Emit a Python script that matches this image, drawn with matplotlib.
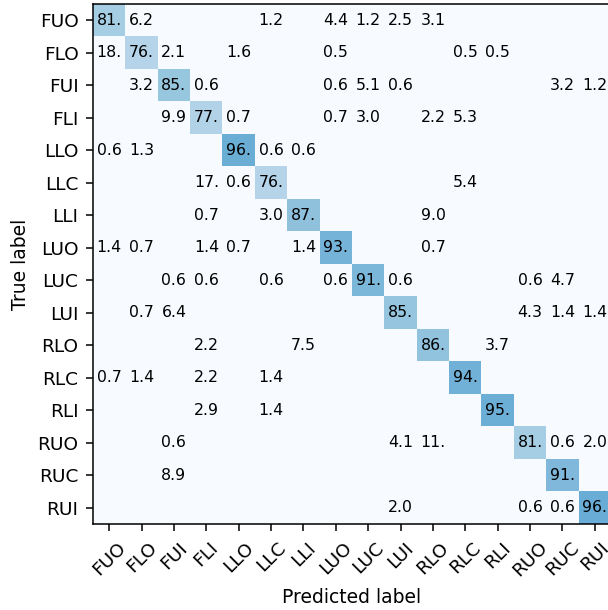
import numpy as np
import matplotlib
matplotlib.use("Agg")
import matplotlib.pyplot as plt
from matplotlib.colors import Normalize

labels = ["FUO", "FLO", "FUI", "FLI", "LLO", "LLC", "LLI", "LUO",
          "LUC", "LUI", "RLO", "RLC", "RLI", "RUO", "RUC", "RUI"]

# rows = true label, columns = predicted label (percent)
row_FUO = [81.4, 6.2, 0, 0, 0, 1.2, 0, 4.4, 1.2, 2.5, 3.1, 0, 0, 0, 0, 0]
row_FLO = [18.1, 76.3, 2.1, 0, 1.6, 0, 0, 0.5, 0, 0, 0, 0.5, 0.5, 0, 0, 0]
row_FUI = [0, 3.2, 85.3, 0.6, 0, 0, 0, 0.6, 5.1, 0.6, 0, 0, 0, 0, 3.2, 1.2]
row_FLI = [0, 0, 9.9, 77.6, 0.7, 0, 0, 0.7, 3.0, 0, 2.2, 5.3, 0, 0, 0, 0]
row_LLO = [0.6, 1.3, 0, 0, 96.2, 0.6, 0.6, 0, 0, 0, 0, 0, 0, 0, 0, 0]
row_LLC = [0, 0, 0, 17.4, 0.6, 76.5, 0, 0, 0, 0, 0, 5.4, 0, 0, 0, 0]
row_LLI = [0, 0, 0, 0.7, 0, 3.0, 87.3, 0, 0, 0, 9.0, 0, 0, 0, 0, 0]
row_LUO = [1.4, 0.7, 0, 1.4, 0.7, 0, 1.4, 93.6, 0, 0, 0.7, 0, 0, 0, 0, 0]
row_LUC = [0, 0, 0.6, 0.6, 0, 0.6, 0, 0.6, 91.8, 0.6, 0, 0, 0, 0.6, 4.7, 0]
row_LUI = [0, 0.7, 6.4, 0, 0, 0, 0, 0, 0, 85.8, 0, 0, 0, 4.3, 1.4, 1.4]
row_RLO = [0, 0, 0, 2.2, 0, 0, 7.5, 0, 0, 0, 86.6, 0, 3.7, 0, 0, 0]
row_RLC = [0.7, 1.4, 0, 2.2, 0, 1.4, 0, 0, 0, 0, 0, 94.2, 0, 0, 0, 0]
row_RLI = [0, 0, 0, 2.9, 0, 1.4, 0, 0, 0, 0, 0, 0, 95.7, 0, 0, 0]
row_RUO = [0, 0, 0.6, 0, 0, 0, 0, 0, 0, 4.1, 11.2, 0, 0, 81.4, 0.6, 2.0]
row_RUC = [0, 0, 8.9, 0, 0, 0, 0, 0, 0, 0, 0, 0, 0, 0, 91.1, 0]
row_RUI = [0, 0, 0, 0, 0, 0, 0, 0, 0, 2.0, 0, 0, 0, 0.6, 0.6, 96.7]

cm = np.array([row_FUO, row_FLO, row_FUI, row_FLI, row_LLO, row_LLC, row_LLI,
               row_LUO, row_LUC, row_LUI, row_RLO, row_RLC, row_RLI, row_RUO,
               row_RUC, row_RUI])

fig = plt.figure(figsize=(6.08, 6.10), dpi=100)
W, H = 608, 610
ax = fig.add_axes([93 / W, (H - 524) / H, 518 / W, 520 / H])
ax.imshow(cm, cmap="Blues", norm=Normalize(vmin=46.5, vmax=145.5),
          interpolation="nearest", aspect="auto")

n = len(labels)
for i in range(n):
    for j in range(n):
        v = cm[i, j]
        if v > 0:
            ax.text(j, i, str(v)[:3], ha="center", va="center",
                    fontsize=11.3, color="black")

ax.set_xticks(range(n))
ax.set_yticks(range(n))
ax.set_xticklabels(labels, rotation=45, fontsize=13.3)
ax.set_yticklabels(labels, fontsize=13.3)
ax.tick_params(length=5, width=1.1, pad=5.5)
ax.set_xlabel("Predicted label", fontsize=13.5, labelpad=5.6)
ax.set_ylabel("True label", fontsize=13.5, labelpad=5.6)
for s in ax.spines.values():
    s.set_linewidth(1.1)

fig.savefig("out.png", dpi=100)
